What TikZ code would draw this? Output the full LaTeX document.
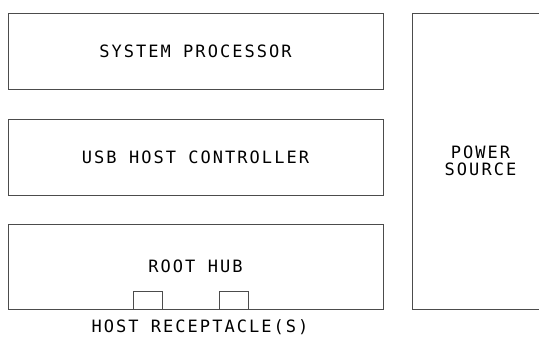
\documentclass[tikz,border=0pt]{standalone}
\usepackage{fontspec}
\newfontfamily\blockfont{DejaVu Sans Mono}[LetterSpace=12]
\usetikzlibrary{positioning}

\begin{document}
\begin{tikzpicture}[x=1pt, y=-1pt,
    every node/.style={font=\blockfont\fontsize{17}{16.5}\selectfont, text=black, inner sep=0pt, outer sep=0pt},
    block/.style={draw=black!70, line width=1pt, minimum width=375pt, minimum height=76pt},
    socket/.style={draw=black!70, line width=1pt, minimum width=29pt, minimum height=18pt}]
  \useasboundingbox (0,0) rectangle (539,341);

  % Host side blocks
  \node[block] (cpu) at (195.5,51) {SYSTEM PROCESSOR};
  \node[block] (hc) at (195.5,157) {USB HOST CONTROLLER};
  \node[block, minimum height=85pt] (hub) at (195.5,266.5) {ROOT HUB};

  % Receptacles on the root hub
  \node[socket] (rcpA) at (147.5,300) {};
  \node[socket] (rcpB) at (234,300) {};
  \node (rcplabel) at (200,327) {HOST RECEPTACLE(S)};

  % Power source, open at the right edge
  \node[minimum width=137pt, minimum height=296pt, align=center] (pwr) at (480.5,161) {POWER\\SOURCE};
  \draw[black!70, line width=1pt] (pwr.north east) -- (pwr.north west) -- (pwr.south west) -- (pwr.south east);
\end{tikzpicture}
\end{document}
